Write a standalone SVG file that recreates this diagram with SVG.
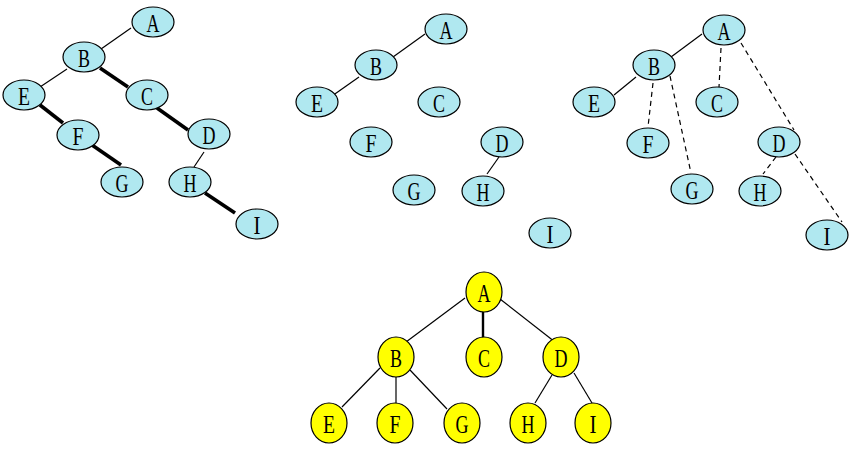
<svg xmlns="http://www.w3.org/2000/svg" width="858" height="450" viewBox="0 0 858 450">
<style>
.c ellipse{fill:#b0e8f0;stroke:#000;stroke-width:1.2}
.y ellipse{fill:#ffff00;stroke:#000;stroke-width:1.2}
text{font-family:"Liberation Serif","DejaVu Serif",serif;font-size:26px;fill:#000;text-anchor:middle}
.e line{stroke:#000;stroke-width:1.2;fill:none}
.e line.t{stroke-width:3.6}
.e line.d{stroke-dasharray:5,4}
.e line.m{stroke-width:2.4}
</style>
<rect width="858" height="450" fill="#fff"/>
<g class="e" id="connectors">
<line x1="131" y1="28" x2="101" y2="49"/>
<line x1="67" y1="69" x2="40" y2="87"/>
<line class="t" x1="100" y1="68" x2="128" y2="87"/>
<line class="t" x1="40" y1="105" x2="63" y2="123"/>
<line class="t" x1="157" y1="108" x2="188" y2="130"/>
<line class="t" x1="92" y1="145" x2="121" y2="165"/>
<line x1="204" y1="152" x2="194" y2="167"/>
<line class="t" x1="205" y1="193" x2="235" y2="213"/>
<line x1="425" y1="34" x2="393" y2="57"/>
<line x1="359" y1="77" x2="332" y2="96"/>
<line x1="499" y1="157" x2="487" y2="174"/>
<line x1="702" y1="34" x2="671" y2="57"/>
<line x1="636" y1="77" x2="614" y2="95"/>
<line class="d" x1="721" y1="48" x2="719" y2="87"/>
<line class="d" x1="741" y1="43" x2="794" y2="130"/>
<line class="d" x1="653" y1="83" x2="648" y2="127"/>
<line class="d" x1="670" y1="76" x2="691" y2="173"/>
<line class="d" x1="776" y1="157" x2="763" y2="174"/>
<line class="d" x1="795" y1="154" x2="842" y2="222"/>
<line x1="465" y1="298" x2="406" y2="342"/>
<line class="m" x1="483" y1="311" x2="483" y2="338"/>
<line x1="500" y1="299" x2="555" y2="342"/>
<line x1="380" y1="368" x2="342" y2="407"/>
<line x1="396" y1="377" x2="396" y2="403"/>
<line x1="410" y1="370" x2="447" y2="409"/>
<line x1="552" y1="375" x2="535" y2="403"/>
<line x1="574" y1="373" x2="592" y2="403"/>
</g>
<g class="c" id="t1">
<g id="t1A"><ellipse cx="153" cy="22" rx="21" ry="15"/><text x="153" y="32" textLength="13" lengthAdjust="spacingAndGlyphs">A</text></g>
<g id="t1B"><ellipse cx="84" cy="57" rx="21" ry="15"/><text x="84" y="67" textLength="12" lengthAdjust="spacingAndGlyphs">B</text></g>
<g id="t1E"><ellipse cx="24" cy="95" rx="21" ry="15"/><text x="24" y="105" textLength="12" lengthAdjust="spacingAndGlyphs">E</text></g>
<g id="t1C"><ellipse cx="147" cy="95" rx="21" ry="15"/><text x="147" y="105" textLength="12" lengthAdjust="spacingAndGlyphs">C</text></g>
<g id="t1F"><ellipse cx="78" cy="135" rx="21" ry="15"/><text x="78" y="145" textLength="11" lengthAdjust="spacingAndGlyphs">F</text></g>
<g id="t1D"><ellipse cx="209" cy="134" rx="21" ry="15"/><text x="209" y="144" textLength="13" lengthAdjust="spacingAndGlyphs">D</text></g>
<g id="t1G"><ellipse cx="122" cy="182" rx="21" ry="15"/><text x="122" y="192" textLength="13" lengthAdjust="spacingAndGlyphs">G</text></g>
<g id="t1H"><ellipse cx="190" cy="182" rx="21" ry="15"/><text x="190" y="192" textLength="13" lengthAdjust="spacingAndGlyphs">H</text></g>
<g id="t1I"><ellipse cx="257" cy="224" rx="21" ry="15"/><text x="257" y="234" textLength="7" lengthAdjust="spacingAndGlyphs">I</text></g>
</g>
<g class="c" id="t2">
<g id="t2A"><ellipse cx="446" cy="29" rx="21" ry="15"/><text x="446" y="39" textLength="13" lengthAdjust="spacingAndGlyphs">A</text></g>
<g id="t2B"><ellipse cx="376" cy="65" rx="21" ry="15"/><text x="376" y="75" textLength="12" lengthAdjust="spacingAndGlyphs">B</text></g>
<g id="t2E"><ellipse cx="317" cy="102" rx="21" ry="15"/><text x="317" y="112" textLength="12" lengthAdjust="spacingAndGlyphs">E</text></g>
<g id="t2C"><ellipse cx="439" cy="102" rx="21" ry="15"/><text x="439" y="112" textLength="12" lengthAdjust="spacingAndGlyphs">C</text></g>
<g id="t2F"><ellipse cx="371" cy="142" rx="21" ry="15"/><text x="371" y="152" textLength="11" lengthAdjust="spacingAndGlyphs">F</text></g>
<g id="t2D"><ellipse cx="502" cy="142" rx="21" ry="15"/><text x="502" y="152" textLength="13" lengthAdjust="spacingAndGlyphs">D</text></g>
<g id="t2G"><ellipse cx="414" cy="190" rx="21" ry="15"/><text x="414" y="200" textLength="13" lengthAdjust="spacingAndGlyphs">G</text></g>
<g id="t2H"><ellipse cx="483" cy="191" rx="21" ry="15"/><text x="483" y="201" textLength="13" lengthAdjust="spacingAndGlyphs">H</text></g>
<g id="t2I"><ellipse cx="550" cy="233" rx="21" ry="15"/><text x="550" y="243" textLength="7" lengthAdjust="spacingAndGlyphs">I</text></g>
</g>
<g class="c" id="t3">
<g id="t3A"><ellipse cx="724" cy="30" rx="21" ry="15"/><text x="724" y="40" textLength="13" lengthAdjust="spacingAndGlyphs">A</text></g>
<g id="t3B"><ellipse cx="654" cy="65" rx="21" ry="15"/><text x="654" y="75" textLength="12" lengthAdjust="spacingAndGlyphs">B</text></g>
<g id="t3E"><ellipse cx="594" cy="102" rx="21" ry="15"/><text x="594" y="112" textLength="12" lengthAdjust="spacingAndGlyphs">E</text></g>
<g id="t3C"><ellipse cx="717" cy="102" rx="21" ry="15"/><text x="717" y="112" textLength="12" lengthAdjust="spacingAndGlyphs">C</text></g>
<g id="t3F"><ellipse cx="648" cy="143" rx="21" ry="15"/><text x="648" y="153" textLength="11" lengthAdjust="spacingAndGlyphs">F</text></g>
<g id="t3D"><ellipse cx="779" cy="142" rx="21" ry="15"/><text x="779" y="152" textLength="13" lengthAdjust="spacingAndGlyphs">D</text></g>
<g id="t3G"><ellipse cx="692" cy="189" rx="21" ry="15"/><text x="692" y="199" textLength="13" lengthAdjust="spacingAndGlyphs">G</text></g>
<g id="t3H"><ellipse cx="760" cy="191" rx="21" ry="15"/><text x="760" y="201" textLength="13" lengthAdjust="spacingAndGlyphs">H</text></g>
<g id="t3I"><ellipse cx="827" cy="235" rx="21" ry="15"/><text x="827" y="245" textLength="7" lengthAdjust="spacingAndGlyphs">I</text></g>
</g>
<g class="y" id="t4">
<g id="t4A"><ellipse cx="484" cy="292" rx="18" ry="20"/><text x="484" y="302" textLength="13" lengthAdjust="spacingAndGlyphs">A</text></g>
<g id="t4B"><ellipse cx="396" cy="357" rx="18" ry="20"/><text x="396" y="367" textLength="12" lengthAdjust="spacingAndGlyphs">B</text></g>
<g id="t4C"><ellipse cx="484" cy="357" rx="18" ry="20"/><text x="484" y="367" textLength="12" lengthAdjust="spacingAndGlyphs">C</text></g>
<g id="t4D"><ellipse cx="561" cy="357" rx="18" ry="20"/><text x="561" y="367" textLength="13" lengthAdjust="spacingAndGlyphs">D</text></g>
<g id="t4E"><ellipse cx="329" cy="423" rx="18" ry="20"/><text x="329" y="433" textLength="12" lengthAdjust="spacingAndGlyphs">E</text></g>
<g id="t4F"><ellipse cx="395" cy="423" rx="18" ry="20"/><text x="395" y="433" textLength="11" lengthAdjust="spacingAndGlyphs">F</text></g>
<g id="t4G"><ellipse cx="462" cy="423" rx="18" ry="20"/><text x="462" y="433" textLength="13" lengthAdjust="spacingAndGlyphs">G</text></g>
<g id="t4H"><ellipse cx="528" cy="423" rx="18" ry="20"/><text x="528" y="433" textLength="13" lengthAdjust="spacingAndGlyphs">H</text></g>
<g id="t4I"><ellipse cx="593" cy="423" rx="18" ry="20"/><text x="593" y="433" textLength="7" lengthAdjust="spacingAndGlyphs">I</text></g>
</g>
</svg>
